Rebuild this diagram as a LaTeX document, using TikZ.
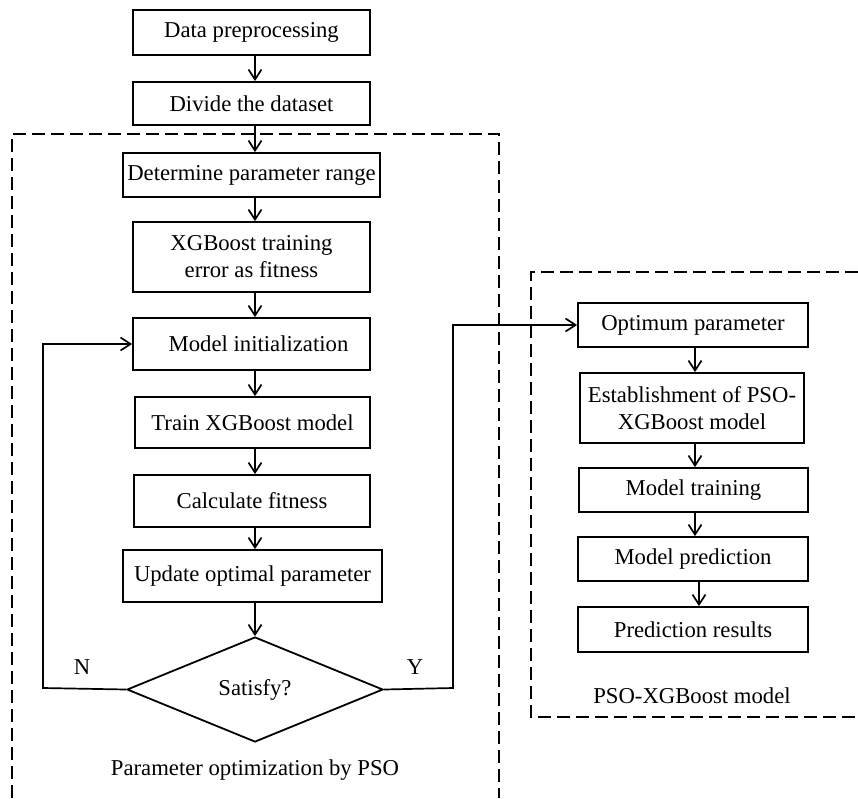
\documentclass[tikz,border=0pt]{standalone}
\usepackage{fontspec}
\setmainfont{Liberation Serif}
\usetikzlibrary{arrows.meta,shapes.geometric}
\begin{document}
\begin{tikzpicture}[x=1pt,y=-1pt,
  every node/.style={font=\fontsize{22.7}{27}\selectfont},
  box/.style={draw,line width=1.8pt,inner sep=0pt,align=center},
  arr/.style={line width=1.7pt,-{Straight Barb[length=10pt,width=13pt,line width=1.7pt]}},
  dashbox/.style={line width=1.6pt,dash pattern=on 13pt off 6pt}]
\useasboundingbox (0,0) rectangle (858,798);
% left column
\node[box,minimum width=237,minimum height=45] (dp) at (251.5,32.5) {Data preprocessing};
\node[box,minimum width=237,minimum height=43] (dd) at (251.5,103.5) {Divide the dataset};
\node[box,minimum width=257,minimum height=44] (dr) at (251.5,175) {Determine parameter range};
\node[box,minimum width=237,minimum height=70] (xe) at (251.5,257) {XGBoost training\\error as fitness};
\node[box,minimum width=237,minimum height=52] (mi) at (251.5,344) {\hspace*{14pt}Model initialization};
\node[box,minimum width=235,minimum height=51] (tx) at (252.5,422.5) {Train XGBoost model};
\node[box,minimum width=236,minimum height=52] (cf) at (252,501) {Calculate fitness};
\node[box,minimum width=259,minimum height=52] (uo) at (252.5,576) {Update optimal parameter};
\node[draw,line width=1.8pt,diamond,inner sep=0pt,minimum width=256,minimum height=105] (di) at (255,689.5) {Satisfy?};
% right column
\node[box,minimum width=230,minimum height=44] (op) at (693,325) {Optimum parameter};
\node[box,minimum width=224,minimum height=70] (es) at (692,408) {Establishment of PSO-\\XGBoost model};
\node[box,minimum width=229,minimum height=44] (mt) at (693.5,490) {Model training};
\node[box,minimum width=230,minimum height=44] (mp) at (693,559) {Model prediction};
\node[box,minimum width=230,minimum height=45] (pr) at (693,629.5) {Prediction results};
% labels
\node (lN) at (82,667) {N};
\node (lY) at (415,667) {Y};
\node (lpso) at (255,770) {Parameter optimization by PSO};
\node (lmod) at (692,696) {PSO-XGBoost model};
% dashed frames
\coordinate (f1) at (12,798);
\coordinate (f2) at (12,134);
\coordinate (f3) at (499,134);
\coordinate (f4) at (499,798);
\draw[dashbox] (f1) -- (f2) -- (f3) -- (f4);
\coordinate (g1) at (858,272);
\coordinate (g2) at (531,272);
\coordinate (g3) at (531,717);
\coordinate (g4) at (858,717);
\draw[dashbox] (g1) -- (g2) -- (g3) -- (g4);
% arrows
\draw[arr] ([xshift=3.5pt]dp.south) -- ([xshift=3.5pt]dd.north);
\draw[arr] ([xshift=3.5pt]dd.south) -- ([xshift=3.5pt]dr.north);
\draw[arr] ([xshift=3.5pt]dr.south) -- ([xshift=3.5pt]xe.north);
\draw[arr] ([xshift=3.5pt]xe.south) -- ([xshift=3.5pt]mi.north);
\draw[arr] ([xshift=3.5pt]mi.south) -- ([xshift=2.5pt]tx.north);
\draw[arr] ([xshift=2.5pt]tx.south) -- ([xshift=3pt]cf.north);
\draw[arr] ([xshift=3pt]cf.south) -- ([xshift=2.5pt]uo.north);
\draw[arr] ([xshift=2.5pt]uo.south) -- (di.north);
\coordinate (nl) at (43,688);
\coordinate (yr) at (453,688);
\draw[arr] (di.west) -- (nl) |- (mi.west);
\draw[arr] (di.east) -- (yr) |- (op.west);
\draw[arr] ([xshift=2pt]op.south) -- ([xshift=3pt]es.north);
\draw[arr] ([xshift=3pt]es.south) -- ([xshift=1.5pt]mt.north);
\draw[arr] ([xshift=1.5pt]mt.south) -- ([xshift=2pt]mp.north);
\draw[arr] ([xshift=6pt]mp.south) -- ([xshift=6pt]pr.north);
\end{tikzpicture}
\end{document}
